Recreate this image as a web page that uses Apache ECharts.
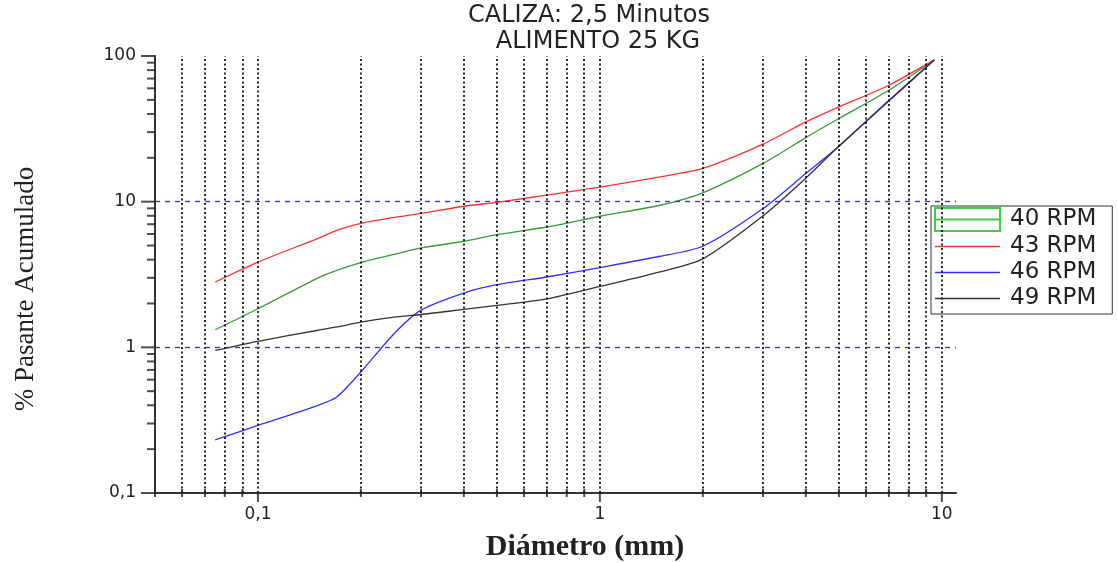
<!DOCTYPE html>
<html>
<head>
<meta charset="utf-8">
<script src="https://cdn.jsdelivr.net/npm/echarts@6/dist/echarts.min.js"></script>
<style>html,body{margin:0;padding:0;background:#fff;}#c{width:1118px;height:563px;}</style>
</head>
<body>
<div id="c"></div>
<script>
// ---- data ----
const diam   = [0.075,0.1,0.15,0.17,0.2,0.25,0.3,0.4,0.5,0.7,1,1.5,2,3,4,5,7,9.5];
const rpm40  = [1.32,1.84,3.0,3.38,3.82,4.35,4.81,5.35,5.94,6.7,7.94,9.45,11.5,18.3,27.5,37.2,58.2,94];
const rpm43  = [2.81,3.85,5.6,6.36,7.1,7.8,8.3,9.3,9.9,11.1,12.6,14.8,16.9,24.8,35.3,44.7,63,94];
const rpm46  = [0.232,0.291,0.40,0.456,0.677,1.24,1.80,2.36,2.69,3.04,3.53,4.22,4.94,8.97,15.6,24.0,49.7,94];
const rpm49  = [0.953,1.10,1.31,1.38,1.49,1.61,1.68,1.82,1.94,2.15,2.62,3.3,4.05,8.0,14.5,24,49,94];
const seriesNames = ['40 RPM','43 RPM','46 RPM','49 RPM'];
const xMajorTicks = [0.1,1,10];
const xMinorTicks = [0.05,0.06,0.07,0.08,0.09,0.2,0.3,0.4,0.5,0.6,0.7,0.8,0.9,2,3,4,5,6,7,8,9];
const yMajorTicks = [0.1,1,10,100];
const yMinorTicks = [0.2,0.3,0.4,0.5,0.6,0.7,0.8,0.9,2,3,4,5,6,7,8,9,20,30,40,50,60,70,80,90];
const vGridLines = [0.06,0.07,0.08,0.09,0.1,0.2,0.3,0.4,0.5,0.6,0.7,0.8,0.9,1,2,3,4,5,6,7,8,9,10];
const hGridLines = [1,10];
const titleLine1 = 'CALIZA: 2,5 Minutos';
const titleLine2 = 'ALIMENTO 25 KG';
const xTitle = 'Diámetro (mm)';
const yTitle = '% Pasante Acumulado';

const colors = ['#3a9a3a','#ff3030','#3030ff','#333333'];
const values = [rpm40, rpm43, rpm46, rpm49];

function fmt(v){
  const e = Math.log10(v);
  if (Math.abs(e - Math.round(e)) > 1e-6) return '';
  const r = Math.pow(10, Math.round(e));
  return (r < 1 ? r.toFixed(1) : String(Math.round(r))).replace('.', ',');
}

const SANS = 'DejaVu Sans';
const chart = echarts.init(document.getElementById('c'), null, {renderer:'canvas'});

const lineSeries = seriesNames.map((n,i)=>({
  name:n, type:'line', z:3, symbol:'none', smooth:0.25,
  lineStyle:{color:colors[i], width:1.3},
  itemStyle:{color:colors[i]},
  data: diam.map((d,k)=>[d, values[i][k]]),
  animation:false
}));

const option = {
  backgroundColor:'#fff',
  animation:false,
  grid:{left:155, right:162, top:56, bottom:70},
  xAxis:{
    type:'log', logBase:10, min:0.05, max:11,
    axisLine:{lineStyle:{color:'#333', width:2}},
    axisTick:{show:false}, splitLine:{show:false}, minorTick:{show:false},
    axisLabel:{formatter:fmt, fontSize:17, color:'#222', margin:13, fontFamily:SANS}
  },
  yAxis:{
    type:'log', logBase:10, min:0.1, max:100,
    axisLine:{lineStyle:{color:'#333', width:2}},
    axisTick:{show:false}, splitLine:{show:false}, minorTick:{show:false},
    axisLabel:{formatter:fmt, fontSize:17, color:'#222', margin:19, fontFamily:SANS}
  },
  legend:{
    orient:'vertical', left:931, top:206,
    padding:[1,16,4,3], itemGap:3, itemWidth:65, itemHeight:23,
    borderColor:'#333', borderWidth:1, backgroundColor:'#fff',
    symbolKeepAspect:true,
    textStyle:{fontSize:23, color:'#222', fontFamily:SANS, padding:[0,0,0,5]},
    data:[
      {name:seriesNames[0], icon:'path://M0,0L65,0L65,23L0,23ZM0,11.5L65,11.5', itemStyle:{color:'rgba(0,0,0,0)', borderColor:'#44cc44', borderWidth:2}},
      {name:seriesNames[1], icon:'path://M0,0L65,0L65,1.4L0,1.4Z', itemStyle:{color:colors[1], borderWidth:0}},
      {name:seriesNames[2], icon:'path://M0,0L65,0L65,1.4L0,1.4Z', itemStyle:{color:colors[2], borderWidth:0}},
      {name:seriesNames[3], icon:'path://M0,0L65,0L65,1.4L0,1.4Z', itemStyle:{color:colors[3], borderWidth:0}}
    ]
  },
  graphic:[
    {type:'text', x:589, y:16, style:{text:titleLine1, font:'24px "'+SANS+'"', fill:'#222', textAlign:'center', textVerticalAlign:'middle'}},
    {type:'text', x:598, y:42, style:{text:titleLine2, font:'24px "'+SANS+'"', fill:'#222', textAlign:'center', textVerticalAlign:'middle'}},
    {type:'text', x:585, y:547, style:{text:xTitle, font:'bold 30px "Liberation Serif"', fill:'#222', textAlign:'center', textVerticalAlign:'middle'}},
    {type:'text', x:26, y:289, rotation:Math.PI/2, style:{text:yTitle, font:'27px "Liberation Serif"', fill:'#222', textAlign:'center', textVerticalAlign:'middle'}}
  ],
  series:[
    {
      name:'grid', type:'line', data:[], z:1, silent:true,
      markLine:{
        silent:true, symbol:'none', label:{show:false}, animation:false,
        data:[].concat(
          vGridLines.map(v=>({xAxis:v, lineStyle:{color:'#111', width:1.8, type:[2,2.5]}})),
          hGridLines.map(v=>({yAxis:v, lineStyle:{color:'#3434b4', width:1.3, type:[5,5]}}))
        )
      }
    },
    ...lineSeries,
    {name:'xminor', type:'scatter', silent:true, clip:false, z:5, symbol:'rect', symbolSize:[2,8],
      itemStyle:{color:'#222'}, data:xMinorTicks.map(v=>[v,0.1])},
    {name:'xmajor', type:'scatter', silent:true, clip:false, z:5, symbol:'rect', symbolSize:[2,10], symbolOffset:[0,4],
      itemStyle:{color:'#222'}, data:xMajorTicks.map(v=>[v,0.1])},
    {name:'yminor', type:'scatter', silent:true, clip:false, z:5, symbol:'rect', symbolSize:[8,2], symbolOffset:[-4,0],
      itemStyle:{color:'#222'}, data:yMinorTicks.map(v=>[0.05,v])},
    {name:'ymajor', type:'scatter', silent:true, clip:false, z:5, symbol:'rect', symbolSize:[14,2], symbolOffset:[-7,0],
      itemStyle:{color:'#222'}, data:yMajorTicks.map(v=>[0.05,v])}
  ]
};
chart.setOption(option);
</script>
</body>
</html>
